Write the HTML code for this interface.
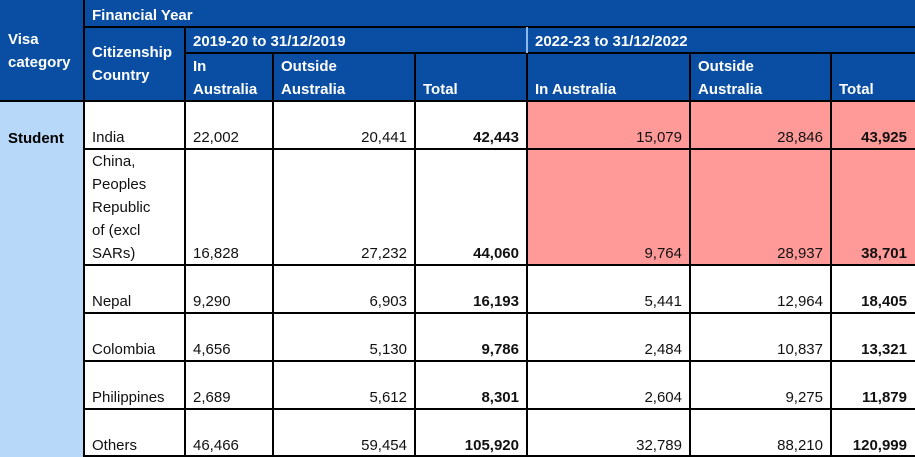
<!DOCTYPE html>
<html><head><meta charset="utf-8"><style>
body{margin:0;width:915px;height:457px;overflow:hidden;background:#fff;font-family:"Liberation Sans",sans-serif;font-size:15px;position:relative}
.c{position:absolute;box-sizing:border-box;display:flex;padding:0 8px 0 8px;line-height:23px}
.h{background:#0a4ea3;color:#fff;font-weight:bold}
.b{color:#111;align-items:flex-end}
.r{justify-content:flex-end}
.p{background:#ff9a98}
.bold{font-weight:bold}
.ln{position:absolute;background:#000;z-index:5}
</style></head><body>
<div class="c h" style="left:0;top:0;width:915px;height:101px"></div>
<div class="c h" style="left:0;top:0;width:84px;height:101px;align-items:center">Visa<br>category</div>
<div class="c h" style="left:84px;top:2px;width:831px;height:27px;align-items:center">Financial Year</div>
<div class="c h" style="left:84px;top:27px;width:101px;height:74px;align-items:center">Citizenship<br>Country</div>
<div class="c h" style="left:185px;top:28px;width:342px;height:26px;align-items:center">2019-20 to 31/12/2019</div>
<div class="c h" style="left:527px;top:28px;width:388px;height:26px;align-items:center">2022-23 to 31/12/2022</div>
<div id="sub"></div>
<div class="c" style="left:0;top:101px;width:84px;height:356px;background:#b8d8fa;font-weight:bold;padding-top:26px;align-items:flex-start">Student</div>
<div id="body"></div>
<div id="lines"></div>
<script>
const cols=[84,185,273,415,527,690,831,915];
const subs=["In<br>Australia","Outside<br>Australia","Total","In Australia","Outside<br>Australia","Total"];
const subNames=['in-australia-2019-header','outside-australia-2019-header','total-2019-header','in-australia-2022-header','outside-australia-2022-header','total-2022-header'];
const sub=document.getElementById('sub');
for(let i=0;i<6;i++){
 const d=document.createElement('div');
 d.className='c h';
 
 
 d.style.cssText=`left:${cols[i+1]}px;top:53px;width:${cols[i+2]-cols[i+1]}px;height:48px;align-items:flex-end`;
 d.innerHTML=subs[i];sub.appendChild(d);
}
const countries=["India","China,<br>Peoples<br>Republic<br>of (excl<br>SARs)","Nepal","Colombia","Philippines","Others"];
const in19=["22,002","16,828","9,290","4,656","2,689","46,466"];
const out19=["20,441","27,232","6,903","5,130","5,612","59,454"];
const tot19=["42,443","44,060","16,193","9,786","8,301","105,920"];
const in22=["15,079","9,764","5,441","2,484","2,604","32,789"];
const out22=["28,846","28,937","12,964","10,837","9,275","88,210"];
const tot22=["43,925","38,701","18,405","13,321","11,879","120,999"];
const rowsY=[101,149,265,313,361,409,457];
const body=document.getElementById('body');
const names=['country','in-australia-2019','outside-australia-2019','total-2019','in-australia-2022','outside-australia-2022','total-2022'];
for(let r=0;r<6;r++){
 const vals=[countries[r],in19[r],out19[r],tot19[r],in22[r],out22[r],tot22[r]];
 for(let c=0;c<7;c++){
  const d=document.createElement('div');
  let cls='c b';
  if(c>=2)cls+=' r';
  if(c===3||c===6)cls+=' bold';
  if(r<2&&c>=4)cls+=' p';
  d.className=cls;
  
  
  d.style.cssText=`left:${cols[c]}px;top:${rowsY[r]}px;width:${cols[c+1]-cols[c]}px;height:${rowsY[r+1]-rowsY[r]}px;`;
  d.innerHTML=vals[c];body.appendChild(d);
 }
}
const lines=document.getElementById('lines');
function ln(x,y,w,h,color){
 const d=document.createElement('div');
 d.className='ln';
 
 
 d.style.cssText=`left:${x}px;top:${y}px;width:${w}px;height:${h}px;`+(color?`background:${color};`:'');
 lines.appendChild(d);
}
ln(83,0,2,457);
ln(84,26,831,2);
ln(185,52,730,2);
ln(0,100,915,2);
ln(184,27,2,430);
ln(272,53,2,404);ln(414,53,2,404);
ln(526,27,2,26,'#8fb8ea');ln(526,53,2,404);
ln(689,53,2,404);ln(830,53,2,404);
for(let r=1;r<6;r++)ln(84,rowsY[r]-1,831,2);
ln(84,455,831,2);
</script>
</body></html>
